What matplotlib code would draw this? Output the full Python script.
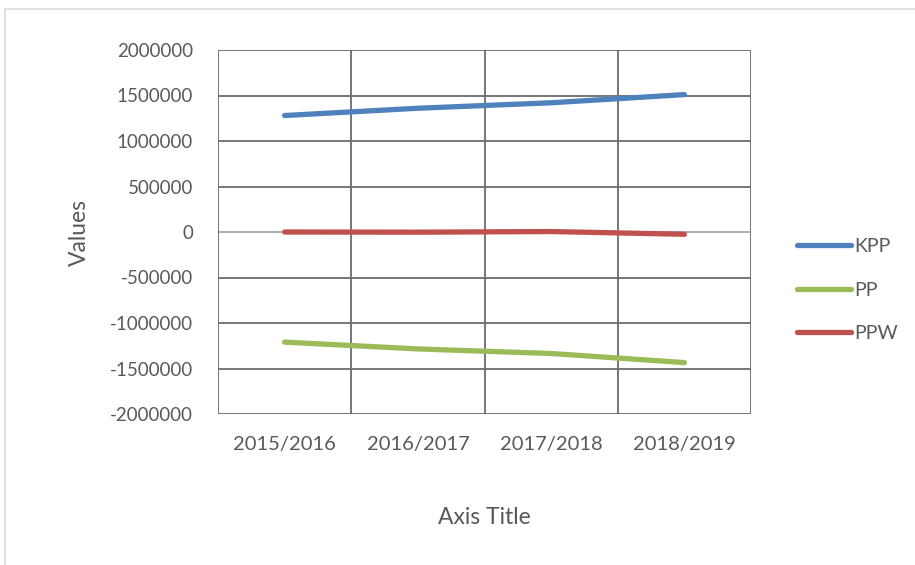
import matplotlib.pyplot as plt
from matplotlib.patches import Rectangle

seasons = ["2015/2016", "2016/2017", "2017/2018", "2018/2019"]
kpp = [1280000, 1360000, 1420000, 1510000]
pp = [-1210000, -1285000, -1335000, -1435000]
ppw = [0, -2000, 5000, -25000]

plt.rcParams['font.family'] = ['Lato', 'DejaVu Sans']
txt = '#595959'
grid = '#6b6b6b'

fig = plt.figure(figsize=(9.15, 5.65), dpi=100)
fig.patches.append(Rectangle((5 / 915, -0.05), 1.0, 1 - 9 / 565 + 0.05,
                             transform=fig.transFigure, fill=False,
                             edgecolor='#d9d9d9', linewidth=1.2))

ax = fig.add_axes([218 / 915, 1 - 414 / 565, 533 / 915, 364 / 565])
x = [i + 0.5 for i in range(len(seasons))]

ax.set_xlim(0, 4)
ax.set_ylim(-2000000, 2000000)
for v in range(-2000000, 2000001, 500000):
    if v == 0:
        ax.axhline(v, color='#a6a6a6', lw=1.3, zorder=1)
    else:
        ax.axhline(v, color=grid, lw=1.3, zorder=1)
for xv in range(5):
    ax.axvline(xv, color=grid, lw=1.3, zorder=1)

ax.plot(x, kpp, color='#4F81BD', lw=3.8, solid_capstyle='round', label='KPP', zorder=3)
ax.plot(x, pp, color='#9BBB59', lw=3.8, solid_capstyle='round', label='PP', zorder=3)
ax.plot(x, ppw, color='#C0504D', lw=3.8, solid_capstyle='round', label='PPW', zorder=3)

for s in ax.spines.values():
    s.set_visible(False)
ax.set_xticks(x)
ax.set_xticklabels(seasons)
ax.set_yticks(range(-2000000, 2000001, 500000))
ax.set_yticklabels([str(v) for v in range(-2000000, 2000001, 500000)])
ax.tick_params(axis='y', length=0, labelsize=13.5, colors=txt, pad=18)
ax.tick_params(axis='x', length=0, labelsize=14.5, colors=txt, pad=16)

ax.set_ylabel('Values', fontsize=16.5, color=txt)
ax.yaxis.set_label_coords(-0.240, 0.5)
ax.set_xlabel('Axis Title', fontsize=16.5, color=txt)
ax.xaxis.set_label_coords(0.5, -0.255)

leg = fig.legend(loc='center left', bbox_to_anchor=(797 / 915, 1 - 290 / 565),
                 frameon=False, fontsize=14, handlelength=2.8, handletextpad=0.15,
                 labelspacing=1.35, labelcolor=txt, borderpad=0, borderaxespad=0)

fig.savefig('out.png', dpi=100)
